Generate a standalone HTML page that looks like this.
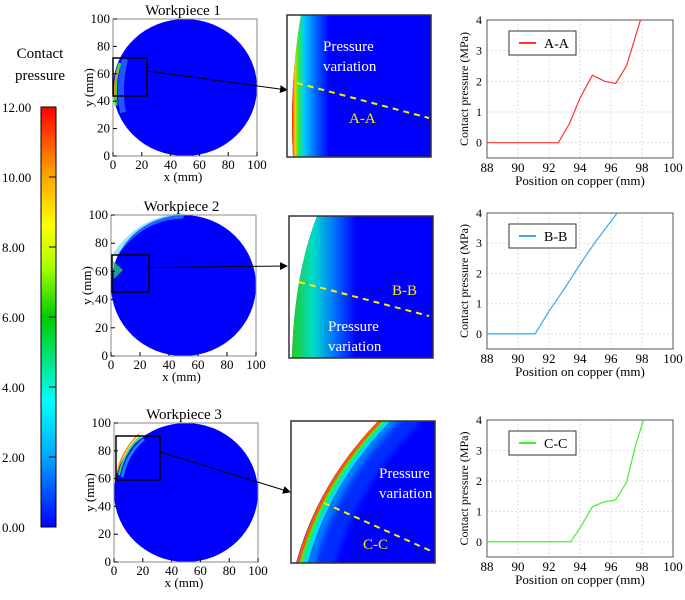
<!DOCTYPE html>
<html><head><meta charset="utf-8"><style>
body{margin:0;background:#fff;width:685px;height:595px;overflow:hidden}
svg{font-family:"Liberation Serif",serif}
</style></head><body>
<svg id="s" width="685" height="595" viewBox="0 0 685 595">
<defs>
<linearGradient id="cb" x1="0" y1="1" x2="0" y2="0">
<stop offset="0" stop-color="#0000ff"/><stop offset="0.17" stop-color="#00aaff"/><stop offset="0.3" stop-color="#00ffff"/>
<stop offset="0.5" stop-color="#00cc00"/><stop offset="0.62" stop-color="#aaff00"/><stop offset="0.72" stop-color="#ffff00"/>
<stop offset="0.85" stop-color="#ff9900"/><stop offset="1" stop-color="#ff0000"/></linearGradient>
<linearGradient id="z1" x1="0" y1="0" x2="1" y2="0">
<stop offset="0" stop-color="#ff2000"/><stop offset="0.04" stop-color="#ffcc00"/><stop offset="0.08" stop-color="#33ee33"/><stop offset="0.16" stop-color="#00ccff"/><stop offset="0.35" stop-color="#0050ff"/><stop offset="0.5" stop-color="#0000ff"/></linearGradient>
<linearGradient id="z2" x1="0" y1="0" x2="1" y2="0">
<stop offset="0" stop-color="#22cc22"/><stop offset="0.2" stop-color="#00ddcc"/><stop offset="0.4" stop-color="#0070ff"/><stop offset="0.6" stop-color="#0000ff"/></linearGradient>
<clipPath id="cz3"><rect x="291" y="421" width="144" height="142"/></clipPath>
<filter id="bl"><feGaussianBlur stdDeviation="3"/></filter>
<marker id="ar" markerWidth="8" markerHeight="8" refX="7" refY="4" orient="auto" markerUnits="userSpaceOnUse"><path d="M0,0L8,4L0,8Z" fill="#000"/></marker>
</defs>

<text x="40" y="58" font-size="15" text-anchor="middle">Contact</text>
<text x="40" y="80" font-size="15" text-anchor="middle">pressure</text>
<rect x="41" y="107" width="15" height="420" fill="url(#cb)" stroke="#000" stroke-width="1"/>
<g id="cbl" font-size="13"></g>

<g id="maps"></g>
<g id="charts"></g>
</svg>
<script>
const NS='http://www.w3.org/2000/svg';
function E(t,a,p,txt){const e=document.createElementNS(NS,t);for(const k in a)e.setAttribute(k,a[k]);if(txt!==undefined)e.textContent=txt;p.appendChild(e);return e;}
const cbLabels=['0.00','2.00','4.00','6.00','8.00','10.00','12.00'];
const cbl=document.getElementById('cbl');
cbLabels.forEach((l,i)=>{const y=527-i*70;
 const t=E('text',{x:2,y:y+5},cbl,l);
 
 
 E('line',{x1:49,y1:y,x2:56,y2:y,stroke:'#000'},cbl);});

const maps=document.getElementById('maps');
const mapAxes=[{x0:113,x1:257,y0:19,y1:156,title:'Workpiece 1'},{x0:111,x1:256,y0:215,y1:356,title:'Workpiece 2'},{x0:114,x1:258,y0:423,y1:562,title:'Workpiece 3'}];
const rects=[[113,58,34,38],[112,255,37,37],[116,436,44,44]];
const zoomBoxes=[[287,15,144,142],[289,216,144,142],[291,421,144,142]];
const arrowEnds=[[287,90],[287,266],[290,492]];
const ticks=[0,20,40,60,80,100];
mapAxes.forEach((m,i)=>{
 const g=E('g',{},maps);
 
 
 const cx=(m.x0+m.x1)/2, cy=(m.y0+m.y1)/2, rx=(m.x1-m.x0)/2, ry=(m.y1-m.y0)/2;
 E('ellipse',{cx,cy,rx,ry,fill:'#0000ff'},g);
 if(i===0){E('path',{d:`M${m.x0+12},${m.y0+40} Q${m.x0+5},${cy} ${m.x0+10},${cy+25}`,fill:'none',stroke:'#44aaff',"stroke-width":6,opacity:0.5},g);
   E('path',{d:`M${m.x0+7},${m.y0+44} Q${m.x0+1},${cy-10} ${m.x0+3},${cy+18}`,fill:'none',stroke:'#33dd33',"stroke-width":3},g);
   E('path',{d:`M${m.x0+5},${m.y0+50} Q${m.x0+1},${cy-10} ${m.x0+2},${cy+10}`,fill:'none',stroke:'#ff8800',"stroke-width":1.5},g);}
 if(i===1){E('path',{d:`M${m.x0+4},${m.y0+40} Q${m.x0+30},${m.y0+2} ${cx},${m.y0+1}`,fill:'none',stroke:'#33ccff',"stroke-width":5,opacity:0.5},g);
   E('path',{d:`M${m.x0+2},${m.y0+46} L${m.x0+12},${m.y0+55} L${m.x0+3},${m.y0+64}Z`,fill:'#22cc66',opacity:0.8},g);}
 if(i===2){E('path',{d:`M${m.x0+8},${m.y0+54} Q${m.x0+13},${m.y0+30} ${m.x0+30},${m.y0+16}`,fill:'none',stroke:'#33ccff',"stroke-width":3,opacity:0.6},g);
   E('path',{d:`M${m.x0+5},${m.y0+52} Q${m.x0+10},${m.y0+28} ${m.x0+27},${m.y0+13}`,fill:'none',stroke:'#33dd55',"stroke-width":2},g);
   E('path',{d:`M${m.x0+3},${m.y0+50} Q${m.x0+8},${m.y0+27} ${m.x0+25},${m.y0+11}`,fill:'none',stroke:'#ff8800',"stroke-width":1.5},g);}
 E('rect',{x:m.x0,y:m.y0,width:m.x1-m.x0,height:m.y1-m.y0,fill:'none',stroke:'#888'},g);
 ticks.forEach(t=>{const x=m.x0+(m.x1-m.x0)*t/100, y=m.y1-(m.y1-m.y0)*t/100;
  E('line',{x1:x,y1:m.y1,x2:x,y2:m.y1-4,stroke:'#000'},g);
  E('line',{x1:m.x0,y1:y,x2:m.x0+4,y2:y,stroke:'#000'},g);
  E('text',{x:x,y:m.y1+13,"font-size":13,"text-anchor":"middle"},g,t);
  E('text',{x:m.x0-3,y:y+4,"font-size":13,"text-anchor":"end"},g,t);});
 E('text',{x:cx-2,y:m.y1+25,"font-size":13,"text-anchor":"middle"},g,'x (mm)');
 E('text',{x:0,y:0,"font-size":13,"text-anchor":"middle",transform:`translate(${m.x0-20},${cy}) rotate(-90)`},g,'y (mm)');
 E('text',{x:cx-2,y:m.y0-4,"font-size":15,"text-anchor":"middle"},g,m.title);
 const r=rects[i];
 E('rect',{x:r[0],y:r[1],width:r[2],height:r[3],fill:'none',stroke:'#000',"stroke-width":1.5},g);
 const a=arrowEnds[i];
 E('line',{x1:r[0]+r[2],y1:r[1]+r[3]/2-6,x2:a[0],y2:a[1],stroke:'#000',"marker-end":'url(#ar)'},g);
 const z=zoomBoxes[i];
 const zg=E('g',{},maps);
 
 
 E('rect',{x:z[0],y:z[1],width:z[2],height:z[3],fill:'#0000ff'},zg);
 if(i===0){E('path',{d:`M${z[0]},${z[1]} L${z[0]+14},${z[1]} Q${z[0]+2},${z[1]+70} ${z[0]+6},${z[1]+142} L${z[0]},${z[1]+142}Z`,fill:'#fff'},zg);
  E('path',{d:`M${z[0]+14},${z[1]} L${z[0]+80},${z[1]} L${z[0]+60},${z[1]+142} L${z[0]+6},${z[1]+142} Q${z[0]+2},${z[1]+70} ${z[0]+14},${z[1]}Z`,fill:'url(#z1)'},zg);
  E('text',{x:z[0]+36,y:z[1]+36,"font-size":15,fill:'#fff'},zg,'Pressure');
  E('text',{x:z[0]+36,y:z[1]+56,"font-size":15,fill:'#fff'},zg,'variation');
  E('line',{x1:z[0]+10,y1:z[1]+68,x2:z[0]+142,y2:z[1]+103,stroke:'#ffee00',"stroke-width":2,"stroke-dasharray":'6,5'},zg);
  E('text',{x:z[0]+62,y:z[1]+108,"font-size":15,fill:'#ffee00'},zg,'A-A');}
 if(i===1){E('path',{d:`M${z[0]},${z[1]} L${z[0]+28},${z[1]} Q${z[0]+5},${z[1]+60} ${z[0]+3},${z[1]+142} L${z[0]},${z[1]+142}Z`,fill:'#fff'},zg);
  E('path',{d:`M${z[0]+28},${z[1]} L${z[0]+110},${z[1]} L${z[0]+70},${z[1]+142} L${z[0]+3},${z[1]+142} Q${z[0]+5},${z[1]+60} ${z[0]+28},${z[1]}Z`,fill:'url(#z2)'},zg);
  E('line',{x1:z[0]+10,y1:z[1]+66,x2:z[0]+140,y2:z[1]+100,stroke:'#ffee00',"stroke-width":2,"stroke-dasharray":'6,5'},zg);
  E('text',{x:z[0]+103,y:z[1]+79,"font-size":15,fill:'#ffee00'},zg,'B-B');
  E('text',{x:z[0]+39,y:z[1]+115,"font-size":15,fill:'#fff'},zg,'Pressure');
  E('text',{x:z[0]+39,y:z[1]+135,"font-size":15,fill:'#fff'},zg,'variation');}
 if(i===2){
  const cg=E('g',{"clip-path":'url(#cz3)'},zg);
  const bands=[[26,26,'#0040ff',0.7,1],[14,10,'#0099ff',0.8,1],[9,5,'#00ddee',1,0],[5,4,'#33ee33',1,0],[2,3,'#ff5500',1,0]];
  bands.forEach(bd=>{const d=bd[0];
   const p=E('path',{d:`M${z[0]+3+d},${z[1]+150} Q${z[0]+25+d},${z[1]+60} ${z[0]+95+d},${z[1]-8}`,fill:'none',stroke:bd[2],"stroke-width":bd[1],opacity:bd[3]},cg);
   if(bd[4])p.setAttribute('filter','url(#bl)');});
  E('path',{d:`M${z[0]-5},${z[1]-5} L${z[0]+95},${z[1]-8} Q${z[0]+25},${z[1]+60} ${z[0]+3},${z[1]+150} L${z[0]-5},${z[1]+150}Z`,fill:'#fff'},cg);
  E('text',{x:z[0]+88,y:z[1]+57,"font-size":15,fill:'#fff'},zg,'Pressure');
  E('text',{x:z[0]+88,y:z[1]+77,"font-size":15,fill:'#fff'},zg,'variation');
  E('line',{x1:z[0]+33,y1:z[1]+82,x2:z[0]+140,y2:z[1]+130,stroke:'#ffee00',"stroke-width":2,"stroke-dasharray":'6,5'},zg);
  E('text',{x:z[0]+72,y:z[1]+128,"font-size":15,fill:'#ffee00'},zg,'C-C');}
 E('rect',{x:z[0],y:z[1],width:z[2],height:z[3],fill:'none',stroke:'#333',"stroke-width":1.5},zg);
});

const xTicks=[88,90,92,94,96,98,100];
const yTicks=[0,1,2,3,4];
const seriesNames=['A-A','B-B','C-C'];
const seriesColors=['#ff3333','#33aaee','#44ee33'];
const xA=[88,92.6,93.3,94,94.8,95.6,96.3,97,97.6,97.9];
const yA=[0,0,0.6,1.45,2.2,2.0,1.93,2.5,3.5,4];
const xB=[88,91.1,92,93,94,95,96.4];
const yB=[0,0,0.75,1.5,2.3,3.05,4];
const xC=[88,93.4,94,94.8,95.5,96.3,97,97.6,98.1];
const yC=[0,0,0.45,1.15,1.3,1.38,1.95,3.2,4];
const chartX=[xA,xB,xC], chartY=[yA,yB,yC];
const boxes=[{top:20,bot:158},{top:213,bot:349},{top:420,bot:557}];
const L=487,R=673,ymin=-0.5,ymax=4;
const ch=document.getElementById('charts');
boxes.forEach((b,i)=>{
 const g=E('g',{},ch);
 
 
 const sx=v=>L+(v-88)/12*(R-L), sy=v=>b.bot-(v-ymin)/(ymax-ymin)*(b.bot-b.top);
 xTicks.forEach(t=>{if(t>88&&t<100)E('line',{x1:sx(t),y1:b.top,x2:sx(t),y2:b.bot,stroke:'#ddd',"stroke-dasharray":'2,2'},g);
  E('text',{x:sx(t),y:b.bot+14,"font-size":13,"text-anchor":"middle"},g,t);});
 yTicks.forEach(t=>{E('line',{x1:L,y1:sy(t),x2:R,y2:sy(t),stroke:'#ddd',"stroke-dasharray":'2,2'},g);
  E('text',{x:L-5,y:sy(t)+4,"font-size":12,"text-anchor":"end"},g,t);});
 E('rect',{x:L,y:b.top,width:R-L,height:b.bot-b.top,fill:'none',stroke:'#555'},g);
 const pts=chartX[i].map((x,k)=>sx(x)+','+sy(chartY[i][k])).join(' ');
 const pl=E('polyline',{points:pts,fill:'none',stroke:seriesColors[i],"stroke-width":1.2},g);
 
 
 const lg=E('g',{},g);
 
 
 E('rect',{x:509,y:b.top+11,width:67,height:24,fill:'#fff',stroke:'#333'},lg);
 E('line',{x1:519,y1:b.top+23,x2:536,y2:b.top+23,stroke:seriesColors[i],"stroke-width":2},lg);
 E('text',{x:544,y:b.top+28,"font-size":14},lg,seriesNames[i]);
 E('text',{x:(L+R)/2,y:b.bot+27,"font-size":13,"text-anchor":"middle"},g,'Position on copper (mm)');
 E('text',{x:0,y:0,"font-size":12,"text-anchor":"middle",transform:`translate(${L-19},${(b.top+b.bot)/2}) rotate(-90)`},g,'Contact pressure (MPa)');
});
</script>
</body></html>
